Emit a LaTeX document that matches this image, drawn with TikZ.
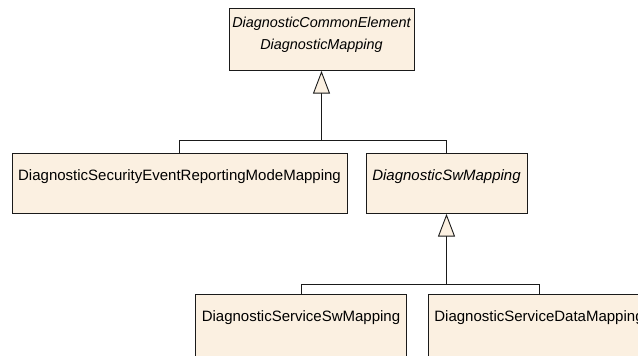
\documentclass[tikz,border=0pt]{standalone}
\usepackage{fontspec}
\setmainfont{Liberation Sans}
\usetikzlibrary{arrows.meta, positioning}
\definecolor{boxfill}{HTML}{FBF0E1}
\definecolor{boxline}{HTML}{1A1A1A}

\begin{document}
\begin{tikzpicture}[
    x=1pt, y=-1pt,
    every node/.style={font=\fontsize{15}{18}\selectfont},
    cls/.style={draw=boxline, fill=boxfill, line width=0.9pt, anchor=north,
        inner xsep=6pt, inner ysep=0pt, text height=27pt, text depth=33pt},
    lowcls/.style={cls, text depth=50pt},
    clsname/.style={anchor=base, inner sep=0pt},
    gen/.style={draw=boxline, line width=0.9pt,
        -{Triangle[length=22.7pt, width=17pt, fill=boxfill]}},
    link/.style={draw=boxline, line width=0.9pt},
]
\useasboundingbox (0,0) rectangle (638,356);
\clip (0,0) rectangle (638,356);

% ---------------- the abstract root
\node[cls, minimum width=185pt, inner xsep=1pt, font=\fontsize{14.4}{18}\selectfont,
    text height=19.5pt, text depth=42.5pt] (common) at (321.5,8)
    {\itshape DiagnosticCommonElement};
\node[clsname, font=\fontsize{14.4}{18}\selectfont] (commonname) at ([yshift=-41.5pt]common.north)
    {\itshape DiagnosticMapping};

% ---------------- first level
\node[cls, minimum width=335pt] (secmode) at (179.5,153) {DiagnosticSecurityEventReportingModeMapping};
\node[cls, minimum width=161pt] (swmap) at (446.5,153) {\itshape DiagnosticSwMapping};

\coordinate (bar1) at (321.5,140);
\draw[link] (secmode.north) |- (bar1);
\draw[link] (swmap.north) |- (bar1);
\draw[gen] (bar1) -- (common.south);

% ---------------- second level
\node[lowcls, minimum width=208pt] (svcsw) at (301,294) {DiagnosticServiceSwMapping};
\node[lowcls, minimum width=218pt] (svcdata) at (539,294) {DiagnosticServiceDataMapping};

\coordinate (bar2) at (446.5,284);
\draw[link] (svcsw.north) |- (bar2);
\draw[link] (svcdata.north) |- (bar2);
\draw[gen] (bar2) -- (swmap.south);
\end{tikzpicture}
\end{document}
